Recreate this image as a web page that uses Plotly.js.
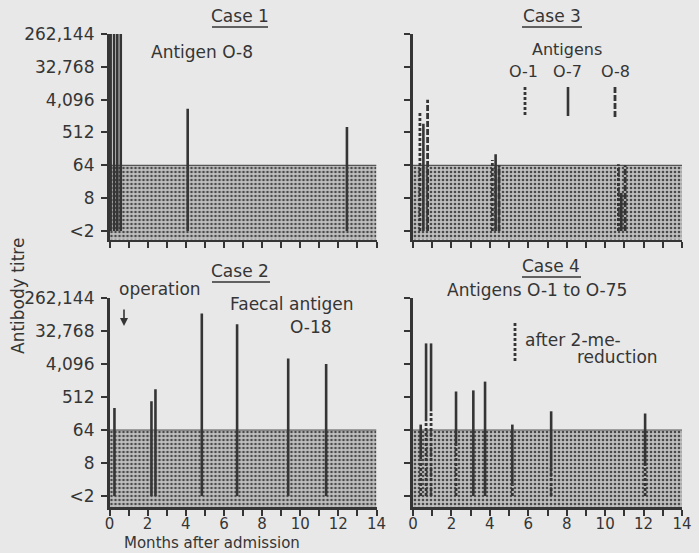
<!DOCTYPE html>
<html>
<head>
<meta charset="utf-8">
<script src="https://cdn.plot.ly/plotly-3.0.1.min.js"></script>
<style>html,body{margin:0;padding:0;background:#e8e8e8;}</style>
</head>
<body>
<div id="chart" style="width:699px;height:553px;"></div>
<script>
// ---------- data (months after admission, antibody titre) ----------
const threshold = 64;
const yTickVals = [1, 8, 64, 512, 4096, 32768, 262144];
const yTickText = ['<2', '8', '64', '512', '4,096', '32,768', '262,144'];
const xTickVals = [0,1,2,3,4,5,6,7,8,9,10,11,12,13,14];
const xTickText = ['0','','2','','4','','6','','8','','10','','12','','14'];

// Case 1 – antigen O-8
const case1Months = [0.06, 0.24, 0.41, 0.59, 4.1, 12.45];
const case1Titre  = [262144, 262144, 262144, 262144, 2300, 724];

// Case 2 – faecal antigen O-18
const case2Months = [0.26, 2.2, 2.41, 4.84, 6.69, 9.37, 11.36];
const case2Titre  = [256, 390, 830, 99000, 50000, 5800, 4096];

// Case 3 – antigens O-1 (dotted), O-7 (solid), O-8 (dashed)
const case3O1Months = [0.36, 4.13, 10.69];
const case3O1Titre  = [1950, 90, 68];
const case3O7Months = [0.54, 4.30, 10.84];
const case3O7Titre  = [890, 128, 11];
const case3O8Months = [0.76, 4.48, 11.04];
const case3O8Titre  = [4096, 64, 64];

// Case 4 – antigens O-1 to O-75, total and after 2-ME reduction
const case4Months  = [0.4, 0.68, 0.94, 2.24, 3.14, 3.75, 5.17, 7.19, 12.08];
const case4Titre   = [90, 15000, 15000, 724, 776, 1350, 90, 208, 181];
const case4Reduced = [10, 111, 208, 26, null, null, 2.1, 6, 7];

// ---------- helpers ----------
const W = 699, H = 553;
const px = x => x / W;
const py = y => 1 - y / H;
const BASE = 1;
const INK = '#353535';

function segs(xs, lo, hi) {
  const X = [], Y = [];
  xs.forEach((x, i) => {
    const a = Array.isArray(lo) ? lo[i] : lo;
    const b = hi[i];
    if (a == null || b == null) return;
    X.push(x, x, null); Y.push(a, b, null);
  });
  return {X, Y};
}
function barTrace(xs, lo, hi, xa, ya, dash, width) {
  const s = segs(xs, lo, hi);
  return {type:'scatter', mode:'lines', x:s.X, y:s.Y, xaxis:xa, yaxis:ya,
    line:{color:INK, width:width||2.6, dash:dash||'solid'}, hoverinfo:'skip', showlegend:false};
}
function shade(xa, ya) {
  return [
    {type:'scatter', mode:'lines', x:[0,14,14,0,0], y:[0.3,0.3,threshold,threshold,0.3],
     xaxis:xa, yaxis:ya, fill:'toself', fillcolor:'#b8b8b8',
     fillpattern:{shape:'.', bgcolor:'#bfbfbf', fgcolor:'#4a4a4a', size:4, solidity:0.35},
     line:{width:0}, hoverinfo:'skip', showlegend:false},
    {type:'scatter', mode:'lines', x:[0,14], y:[threshold,threshold], xaxis:xa, yaxis:ya,
     line:{color:'#555', width:1.2}, hoverinfo:'skip', showlegend:false}
  ];
}

const traces = [];
traces.push(...shade('x','y'), ...shade('x2','y2'), ...shade('x3','y3'), ...shade('x4','y4'));
// Case 1
traces.push(barTrace(case1Months, BASE, case1Titre, 'x', 'y'));
// Case 3
traces.push(barTrace(case3O1Months, BASE, case3O1Titre, 'x3', 'y3', '3px,2px', 2.8));
traces.push(barTrace(case3O7Months, BASE, case3O7Titre, 'x3', 'y3', 'solid', 2.6));
traces.push(barTrace(case3O8Months, BASE, case3O8Titre, 'x3', 'y3', '6px,2px', 2.8));
// Case 2
traces.push(barTrace(case2Months, BASE, case2Titre, 'x2', 'y2'));
// Case 4 : solid above reduced titre, dotted below
const c4lo = case4Reduced.map(v => v == null ? BASE : v);
traces.push(barTrace(case4Months, c4lo, case4Titre, 'x4', 'y4', 'solid', 2.6));
traces.push(barTrace(case4Months, BASE, case4Reduced, 'x4', 'y4', '3px,2px', 2.8));

const font = {family:'DejaVu Sans, sans-serif', color:INK};

function xAxis(domain, labels, anchor) {
  return {domain:domain, anchor:anchor, range:[0,14], tickvals:xTickVals,
    ticktext: labels ? xTickText : xTickVals.map(()=> ''),
    ticks:'outside', ticklen:6, tickwidth:2, tickcolor:INK, ticklabelstandoff:-5,
    showline:true, linewidth:2.6, linecolor:INK, showgrid:false, zeroline:false,
    tickfont:{family:font.family, color:INK, size:15}, fixedrange:true};
}
function yAxis(domain, bottomLog2, labels, anchor) {
  return {domain:domain, anchor:anchor, type:'log',
    range:[bottomLog2*Math.log10(2), Math.log10(262144)],
    tickvals:yTickVals, ticktext: labels ? yTickText : yTickVals.map(()=> ''),
    ticks:'outside', ticklen:6, tickwidth:2, tickcolor:INK, ticklabelstandoff:3,
    showline:true, linewidth:2.6, linecolor:INK, showgrid:false, zeroline:false,
    tickfont:{family:font.family, color:INK, size:17}, fixedrange:true};
}

const topY = [py(239.5), py(34)];
const botY = [py(507), py(298)];
const leftX = [px(109.5), px(376.5)];
const rightX = [px(413), px(682)];

const layout = {
  width:W, height:H, autosize:false,
  margin:{l:0, r:0, t:0, b:0, pad:0},
  paper_bgcolor:'#e8e8e8', plot_bgcolor:'rgba(0,0,0,0)',
  showlegend:false,
  xaxis: xAxis(leftX, false, 'y'),
  yaxis: yAxis(topY, -0.78, true, 'x'),
  xaxis2: xAxis(leftX, true, 'y2'),
  yaxis2: yAxis(botY, -1.0, true, 'x2'),
  xaxis3: xAxis(rightX, false, 'y3'),
  yaxis3: yAxis(topY, -0.78, false, 'x3'),
  xaxis4: xAxis(rightX, true, 'y4'),
  yaxis4: yAxis(botY, -1.0, false, 'x4'),
  annotations: [],
  shapes: []
};

function txt(t, x, y, size, anchor, extra) {
  layout.annotations.push(Object.assign({text:t, x:px(x), y:py(y), xref:'paper', yref:'paper',
    xanchor:anchor||'center', yanchor:'middle', showarrow:false,
    font:{family:font.family, color:INK, size:size||17}}, extra||{}));
}
function line(x0, y0, x1, y1, w, dash) {
  layout.shapes.push({type:'line', xref:'paper', yref:'paper', x0:px(x0), y0:py(y0), x1:px(x1), y1:py(y1),
    line:{color:INK, width:w||1.5, dash:dash||'solid'}});
}

// Case titles with underline
txt('Case 1', 240, 16, 17); line(212, 27, 268, 27, 1.5);
txt('Case 3', 552, 16, 17); line(522, 27, 582, 27, 1.5);
txt('Case 2', 240, 271, 17); line(212, 282, 270, 282, 1.5);
txt('Case 4', 551, 266, 17); line(522, 277, 581, 277, 1.5);

// Case 1 label
txt('Antigen O-8', 202, 52, 17);
// Case 3 legend
txt('Antigens', 567, 49, 16);
txt('O-1', 523, 71, 16); txt('O-7', 567, 71, 16); txt('O-8', 615, 71, 16);
line(525, 87, 525, 117, 2.8, '3px,2px');
line(568, 87, 568, 116, 2.6, 'solid');
line(615, 87, 615, 117, 2.8, '6px,2px');
// Case 2 labels
txt('operation', 160, 289, 17);
layout.annotations.push({text:'', x:px(124), y:py(326), xref:'paper', yref:'paper',
  showarrow:true, ax:0, ay:-18, arrowhead:2, arrowsize:1, arrowwidth:1.6, arrowcolor:INK});
txt('Faecal antigen', 292, 304, 17);
txt('O-18', 311, 327, 17);
// Case 4 labels
txt('Antigens O-1 to O-75', 537, 290, 17);
line(515, 323, 515, 362, 2.8, '3px,2px');
txt('after 2-me-', 523, 340, 17, 'left');
txt('reduction', 660, 357, 17, 'right');

// axis titles
txt('Antibody titre', 18, 296, 17, 'center', {textangle:-90});
txt('Months after admission', 212, 543, 15);

Plotly.newPlot('chart', traces, layout, {staticPlot:true, displayModeBar:false});
</script>
</body>
</html>
